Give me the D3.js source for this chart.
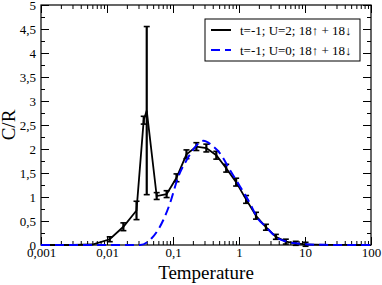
<!DOCTYPE html>
<html>
<head>
<meta charset="utf-8">
<script src="https://cdn.jsdelivr.net/npm/d3@7"></script>
<style>
  body { margin: 0; background: #fff; }
  svg { display: block; }
  text { font-family: "Liberation Serif", "Times New Roman", serif; }
</style>
</head>
<body>
<div id="chart"></div>
<script>
// U=2 run (black, with error bars)
const tempU2 = [0.001, 0.003, 0.006, 0.011, 0.0177, 0.028, 0.036, 0.04, 0.0566, 0.08, 0.113, 0.16, 0.226, 0.32, 0.453, 0.64, 0.905, 1.28, 1.81, 2.56, 3.62, 5.12, 7.24, 10.2, 14.5, 20.5, 29, 41, 58, 82];
const cvU2   = [0, 0, 0.01, 0.12, 0.38, 0.72, 2.6, 2.8, 1.02, 1.06, 1.4, 1.89, 2.05, 2.02, 1.87, 1.6, 1.31, 0.95, 0.61, 0.37, 0.17, 0.07, 0.035, 0.015, 0.008, 0.004, 0.002, 0.001, 0, 0];
const errU2  = [0, 0, 0, 0.02, 0.05, 0.16, 0.05, 1.72, 0.04, 0.04, 0.05, 0.06, 0.05, 0.05, 0.05, 0.05, 0.05, 0.05, 0.04, 0.03, 0.02, 0.02, 0.01, 0.01, 0.01, 0, 0, 0, 0, 0];

// U=0 (blue dashed)
const tempU0 = [0.001, 0.01, 0.0316, 0.0475, 0.0713, 0.0901, 0.12, 0.161, 0.229, 0.288, 0.408, 0.515, 0.731, 1.035, 1.556, 1.83, 2.56, 3.62, 5.12, 7.24, 10.2, 20, 50, 100];
const cvU0   = [0, 0, 0, 0.14, 0.52, 0.87, 1.42, 1.77, 2.08, 2.17, 2.05, 1.91, 1.56, 1.22, 0.8, 0.6, 0.38, 0.17, 0.075, 0.035, 0.015, 0.003, 0, 0];

const xMajor = [0.001, 0.01, 0.1, 1, 10, 100];
const xMajorLabels = ["0,001", "0,01", "0,1", "1", "10", "100"];
const yMajor = [0, 0.5, 1, 1.5, 2, 2.5, 3, 3.5, 4, 4.5, 5];
const yMajorLabels = ["0", "0,5", "1", "1,5", "2", "2,5", "3", "3,5", "4", "4,5", "5"];
const legendLabels = ["t=-1; U=2; 18\u2191 + 18\u2193", "t=-1; U=0; 18\u2191 + 18\u2193"];

const width = 382, height = 285;
const margin = {top: 5, right: 11, bottom: 40, left: 41};
const plotW = width - margin.left - margin.right;
const plotH = height - margin.top - margin.bottom;
const serif = '"Liberation Serif", "Times New Roman", serif';

const svg = d3.select('#chart').append('svg')
    .attr('width', width)
    .attr('height', height);

const x = d3.scaleLog().domain([0.001, 100]).range([margin.left, margin.left + plotW]);
const y = d3.scaleLinear().domain([0, 5]).range([margin.top + plotH, margin.top]);

// minor ticks
const xMinor = x.ticks().filter(v => !xMajor.some(m => Math.abs(m - v) / m < 1e-6));
const yMinor = d3.range(0.25, 5, 0.5);

function styleAxis(g) {
    g.attr('font-family', serif);
    g.select('.domain').remove();
    g.selectAll('.tick line').attr('stroke', '#000').attr('stroke-width', 1);
    g.selectAll('.tick text')
        .attr('fill', '#000')
        .attr('font-family', serif)
        .style('font-size', '13px');
}

const bottomY = margin.top + plotH;
const rightX = margin.left + plotW;

// bottom
svg.append('g').attr('transform', `translate(0,${bottomY})`)
    .call(d3.axisBottom(x).tickValues(xMajor).tickSize(-8).tickPadding(3)
        .tickFormat((d, i) => xMajorLabels[i]))
    .call(styleAxis);
svg.append('g').attr('transform', `translate(0,${bottomY})`)
    .call(d3.axisBottom(x).tickValues(xMinor).tickSize(-4).tickFormat(''))
    .call(styleAxis);
// top
svg.append('g').attr('transform', `translate(0,${margin.top})`)
    .call(d3.axisTop(x).tickValues(xMajor).tickSize(-8).tickFormat(''))
    .call(styleAxis);
svg.append('g').attr('transform', `translate(0,${margin.top})`)
    .call(d3.axisTop(x).tickValues(xMinor).tickSize(-4).tickFormat(''))
    .call(styleAxis);
// left
svg.append('g').attr('transform', `translate(${margin.left},0)`)
    .call(d3.axisLeft(y).tickValues(yMajor).tickSize(-8).tickPadding(5)
        .tickFormat((d, i) => yMajorLabels[i]))
    .call(styleAxis);
svg.append('g').attr('transform', `translate(${margin.left},0)`)
    .call(d3.axisLeft(y).tickValues(yMinor).tickSize(-4).tickFormat(''))
    .call(styleAxis);
// right
svg.append('g').attr('transform', `translate(${rightX},0)`)
    .call(d3.axisRight(y).tickValues(yMajor).tickSize(-8).tickFormat(''))
    .call(styleAxis);
svg.append('g').attr('transform', `translate(${rightX},0)`)
    .call(d3.axisRight(y).tickValues(yMinor).tickSize(-4).tickFormat(''))
    .call(styleAxis);

// frame
svg.append('rect')
    .attr('x', margin.left).attr('y', margin.top)
    .attr('width', plotW).attr('height', plotH)
    .attr('fill', 'none').attr('stroke', '#000').attr('stroke-width', 1.2);

// U=2 line
const u2 = tempU2.map((t, i) => ({t: t, c: cvU2[i], e: errU2[i]}));
svg.append('path')
    .datum(u2)
    .attr('d', d3.line().x(d => x(d.t)).y(d => y(d.c)))
    .attr('fill', 'none')
    .attr('stroke', '#000')
    .attr('stroke-width', 1.8);

// error bars
const eb = svg.append('g').attr('class', 'errorbars');
const ebData = u2.filter(d => d.t > 0.008 && d.t < 12);
eb.selectAll('.bar').data(ebData).join('line')
    .attr('x1', d => x(d.t)).attr('x2', d => x(d.t))
    .attr('y1', d => y(d.c - d.e) + 1.5).attr('y2', d => y(d.c + d.e) - 1.5)
    .attr('stroke', '#000').attr('stroke-width', 2.2);
eb.selectAll('.capTop').data(ebData).join('line')
    .attr('x1', d => x(d.t) - 3).attr('x2', d => x(d.t) + 3)
    .attr('y1', d => y(d.c + d.e) - 1.5).attr('y2', d => y(d.c + d.e) - 1.5)
    .attr('stroke', '#000').attr('stroke-width', 1.6);
eb.selectAll('.capBot').data(ebData).join('line')
    .attr('x1', d => x(d.t) - 3).attr('x2', d => x(d.t) + 3)
    .attr('y1', d => y(d.c - d.e) + 1.5).attr('y2', d => y(d.c - d.e) + 1.5)
    .attr('stroke', '#000').attr('stroke-width', 1.6);

// U=0 line
const u0 = tempU0.map((t, i) => ({t: t, c: cvU0[i]}));
svg.append('path')
    .datum(u0)
    .attr('d', d3.line().x(d => x(d.t)).y(d => y(d.c)).curve(d3.curveMonotoneX))
    .attr('fill', 'none')
    .attr('stroke', '#0000ff')
    .attr('stroke-width', 2)
    .attr('stroke-dasharray', '9,5');

// legend
const legend = svg.append('g').attr('transform', 'translate(205,19)');
legend.append('rect')
    .attr('x', 0).attr('y', 0).attr('width', 155).attr('height', 42)
    .attr('fill', '#fff').attr('stroke', '#000').attr('stroke-width', 1);
const legendColors = ['#000', '#0000ff'];
const legendDash = [null, '9,5'];
legendLabels.forEach((lab, i) => {
    const ly = 11 + i * 20;
    legend.append('line')
        .attr('x1', 6).attr('x2', 26).attr('y1', ly).attr('y2', ly)
        .attr('stroke', legendColors[i]).attr('stroke-width', 2)
        .attr('stroke-dasharray', legendDash[i]);
    legend.append('text')
        .attr('x', 35).attr('y', ly + 4.5)
        .attr('font-family', serif)
        .style('font-size', '13px')
        .text(lab);
});

// axis titles
svg.append('text')
    .attr('x', margin.left + plotW / 2).attr('y', 279)
    .attr('text-anchor', 'middle')
    .attr('font-family', serif)
    .style('font-size', '19px')
    .text('Temperature');
svg.append('text')
    .attr('transform', `translate(15,${margin.top + plotH / 2}) rotate(-90)`)
    .attr('text-anchor', 'middle')
    .attr('font-family', serif)
    .style('font-size', '19px')
    .text('C/R');
</script>
</body>
</html>
